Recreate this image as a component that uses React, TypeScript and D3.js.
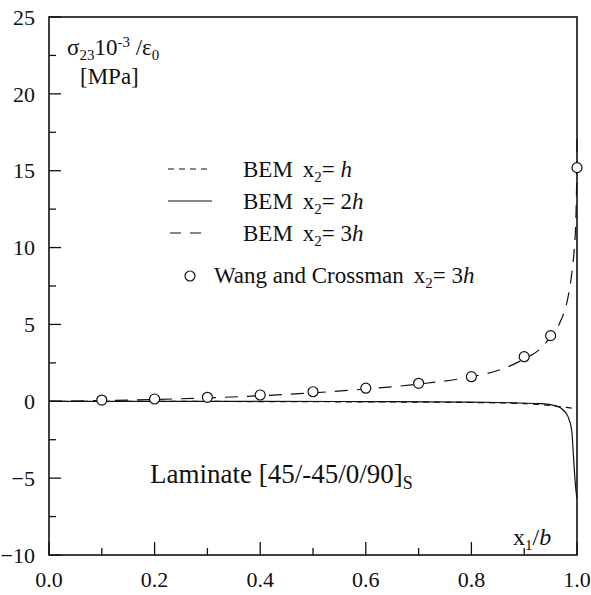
import React, { useEffect, useRef } from 'react';
import * as d3 from 'd3';

// BEM curves, x1/b positions and stress values
const xH = [0, 0.2, 0.4, 0.6, 0.8, 0.9, 0.95, 0.98, 1.0];
const yH = [0, 0, -0.02, -0.04, -0.08, -0.15, -0.28, -0.4, -0.5];

const x2H = [0, 0.2, 0.4, 0.6, 0.8, 0.88, 0.93, 0.96, 0.975, 0.983, 0.99, 0.993, 0.996, 0.998, 1.0];
const y2H = [0, 0, 0, -0.02, -0.05, -0.1, -0.15, -0.3, -0.6, -1.0, -1.9, -3.4, -5.0, -5.8, -6.3];

const x3H = [0, 0.1, 0.2, 0.3, 0.4, 0.5, 0.6, 0.7, 0.8, 0.85, 0.9, 0.93, 0.95, 0.97, 0.98, 0.99, 0.995, 0.998, 0.9995, 1.0];
const y3H = [0, 0.05, 0.12, 0.22, 0.36, 0.55, 0.8, 1.12, 1.6, 2.0, 2.75, 3.4, 4.2, 5.3, 6.3, 8.3, 10, 12, 15, 17.5];

// Wang and Crossman points
const xWC = [0.1, 0.2, 0.3, 0.4, 0.5, 0.6, 0.7, 0.8, 0.9, 0.95, 1.0];
const yWC = [0.08, 0.15, 0.26, 0.41, 0.62, 0.85, 1.17, 1.6, 2.9, 4.27, 15.2];

const xTicks = [0, 0.2, 0.4, 0.6, 0.8, 1.0];
const xMinor = [0.1, 0.3, 0.5, 0.7, 0.9];
const yTicks = [25, 20, 15, 10, 5, 0, -5, -10];
const yMinor = [22.5, 17.5, 12.5, 7.5, 2.5, -2.5, -7.5];

const W = 591;
const H = 595;
const FONT = '"Liberation Serif", "Times New Roman", serif';

const App = () => {
  const ref = useRef<SVGSVGElement>(null);

  useEffect(() => {
    const svg = d3.select(ref.current);
    svg.selectAll('*').remove();
    svg.style('font-family', FONT);

    const x = d3.scaleLinear().domain([0, 1]).range([49, 577]);
    const y = d3.scaleLinear().domain([-10, 25]).range([555, 17]);

    svg.append('rect').attr('width', W).attr('height', H).attr('fill', 'white');

    // frame
    svg.append('rect')
      .attr('x', x(0)).attr('y', y(25))
      .attr('width', x(1) - x(0)).attr('height', y(-10) - y(25))
      .attr('fill', 'none').attr('stroke', '#111').attr('stroke-width', 1.6);

    const ticks = svg.append('g').attr('stroke', '#111').attr('stroke-width', 1.3);
    yTicks.forEach(v => ticks.append('line').attr('x1', x(0)).attr('x2', x(0) + 12).attr('y1', y(v)).attr('y2', y(v)));
    yMinor.forEach(v => ticks.append('line').attr('x1', x(0)).attr('x2', x(0) + 7).attr('y1', y(v)).attr('y2', y(v)));
    xTicks.forEach(v => ticks.append('line').attr('x1', x(v)).attr('x2', x(v)).attr('y1', y(-10)).attr('y2', y(-10) - 13));
    xMinor.forEach(v => ticks.append('line').attr('x1', x(v)).attr('x2', x(v)).attr('y1', y(-10)).attr('y2', y(-10) - 7));

    svg.append('g').selectAll('text').data(yTicks).join('text')
      .attr('x', 35).attr('y', d => y(d)).attr('dy', '0.35em')
      .attr('text-anchor', 'end').style('font-size', '22px').attr('fill', '#111')
      .text(d => d3.format('d')(d));

    svg.append('g').selectAll('text').data(xTicks).join('text')
      .attr('x', d => x(d)).attr('y', 587)
      .attr('text-anchor', 'middle').style('font-size', '22px').attr('fill', '#111')
      .text(d => d3.format('.1f')(d));

    // curves
    const line = d3.line<[number, number]>().x(d => x(d[0])).y(d => y(d[1])).curve(d3.curveMonotoneX);
    const curves = [
      { xs: xH, ys: yH, dash: '6,5' },
      { xs: x2H, ys: y2H, dash: null },
      { xs: x3H, ys: y3H, dash: '13,9' },
    ];
    curves.forEach(c => {
      svg.append('path')
        .attr('d', line(c.xs.map((v, i) => [v, c.ys[i]] as [number, number])))
        .attr('fill', 'none').attr('stroke', '#111').attr('stroke-width', 1.2)
        .attr('stroke-dasharray', c.dash);
    });

    svg.append('g').selectAll('circle').data(xWC).join('circle')
      .attr('cx', d => x(d)).attr('cy', (d, i) => y(yWC[i])).attr('r', 5)
      .attr('fill', 'white').attr('stroke', '#111').attr('stroke-width', 1.2);

    // legend
    const leg = svg.append('g').style('font-size', '23px').attr('fill', '#111');
    const rows = [
      { dash: '6,5', h: 'h', base: 177, x1: 168, x2: 212 },
      { dash: null, h: '2h', base: 209, x1: 168, x2: 212 },
      { dash: '11,9', h: '3h', base: 241, x1: 170, x2: 206 },
    ];
    rows.forEach(r => {
      leg.append('line').attr('x1', r.x1).attr('x2', r.x2).attr('y1', r.base - 8).attr('y2', r.base - 8)
        .attr('stroke', '#111').attr('stroke-width', 1.2).attr('stroke-dasharray', r.dash);
      const t = leg.append('text').attr('x', 243).attr('y', r.base);
      t.append('tspan').text('BEM');
      t.append('tspan').attr('dx', 10).text('x');
      t.append('tspan').attr('dy', 5).style('font-size', '15px').text('2');
      t.append('tspan').attr('dy', -5).text('= ' + r.h.replace('h', ''));
      t.append('tspan').style('font-style', 'italic').text('h');
    });
    leg.append('circle').attr('cx', 190).attr('cy', 276).attr('r', 5)
      .attr('fill', 'white').attr('stroke', '#111').attr('stroke-width', 1.2);
    const wt = leg.append('text').attr('x', 214).attr('y', 283);
    wt.append('tspan').text('Wang and Crossman');
    wt.append('tspan').attr('dx', 10).text('x');
    wt.append('tspan').attr('dy', 5).style('font-size', '15px').text('2');
    wt.append('tspan').attr('dy', -5).text('= 3');
    wt.append('tspan').style('font-style', 'italic').text('h');

    // y axis label
    const yl = svg.append('text').attr('x', 67).attr('y', 55).style('font-size', '23px').attr('fill', '#111');
    yl.append('tspan').text('σ');
    yl.append('tspan').attr('dy', 5).style('font-size', '15px').text('23');
    yl.append('tspan').attr('dy', -5).text('10');
    yl.append('tspan').attr('dy', -8).style('font-size', '15px').text('-3');
    yl.append('tspan').attr('dy', 8).text(' /ε');
    yl.append('tspan').attr('dy', 5).style('font-size', '15px').text('0');
    svg.append('text').attr('x', 80).attr('y', 84).style('font-size', '23px').attr('fill', '#111').text('[MPa]');

    // x axis label
    const xl = svg.append('text').attr('x', 513).attr('y', 545).style('font-size', '24px').attr('fill', '#111');
    xl.append('tspan').text('x');
    xl.append('tspan').attr('dy', 5).style('font-size', '15px').text('1');
    xl.append('tspan').attr('dy', -5).text('/');
    xl.append('tspan').style('font-style', 'italic').text('b');

    // annotation
    const an = svg.append('text').attr('x', 150).attr('y', 483).style('font-size', '27px').attr('fill', '#111');
    an.append('tspan').text('Laminate [45/-45/0/90]');
    an.append('tspan').attr('dy', 6).style('font-size', '18px').text('S');
  }, []);

  return (
    <svg ref={ref} width={W} height={H} style={{ position: 'absolute', left: 0, top: 0 }} />
  );
};

export default App;
